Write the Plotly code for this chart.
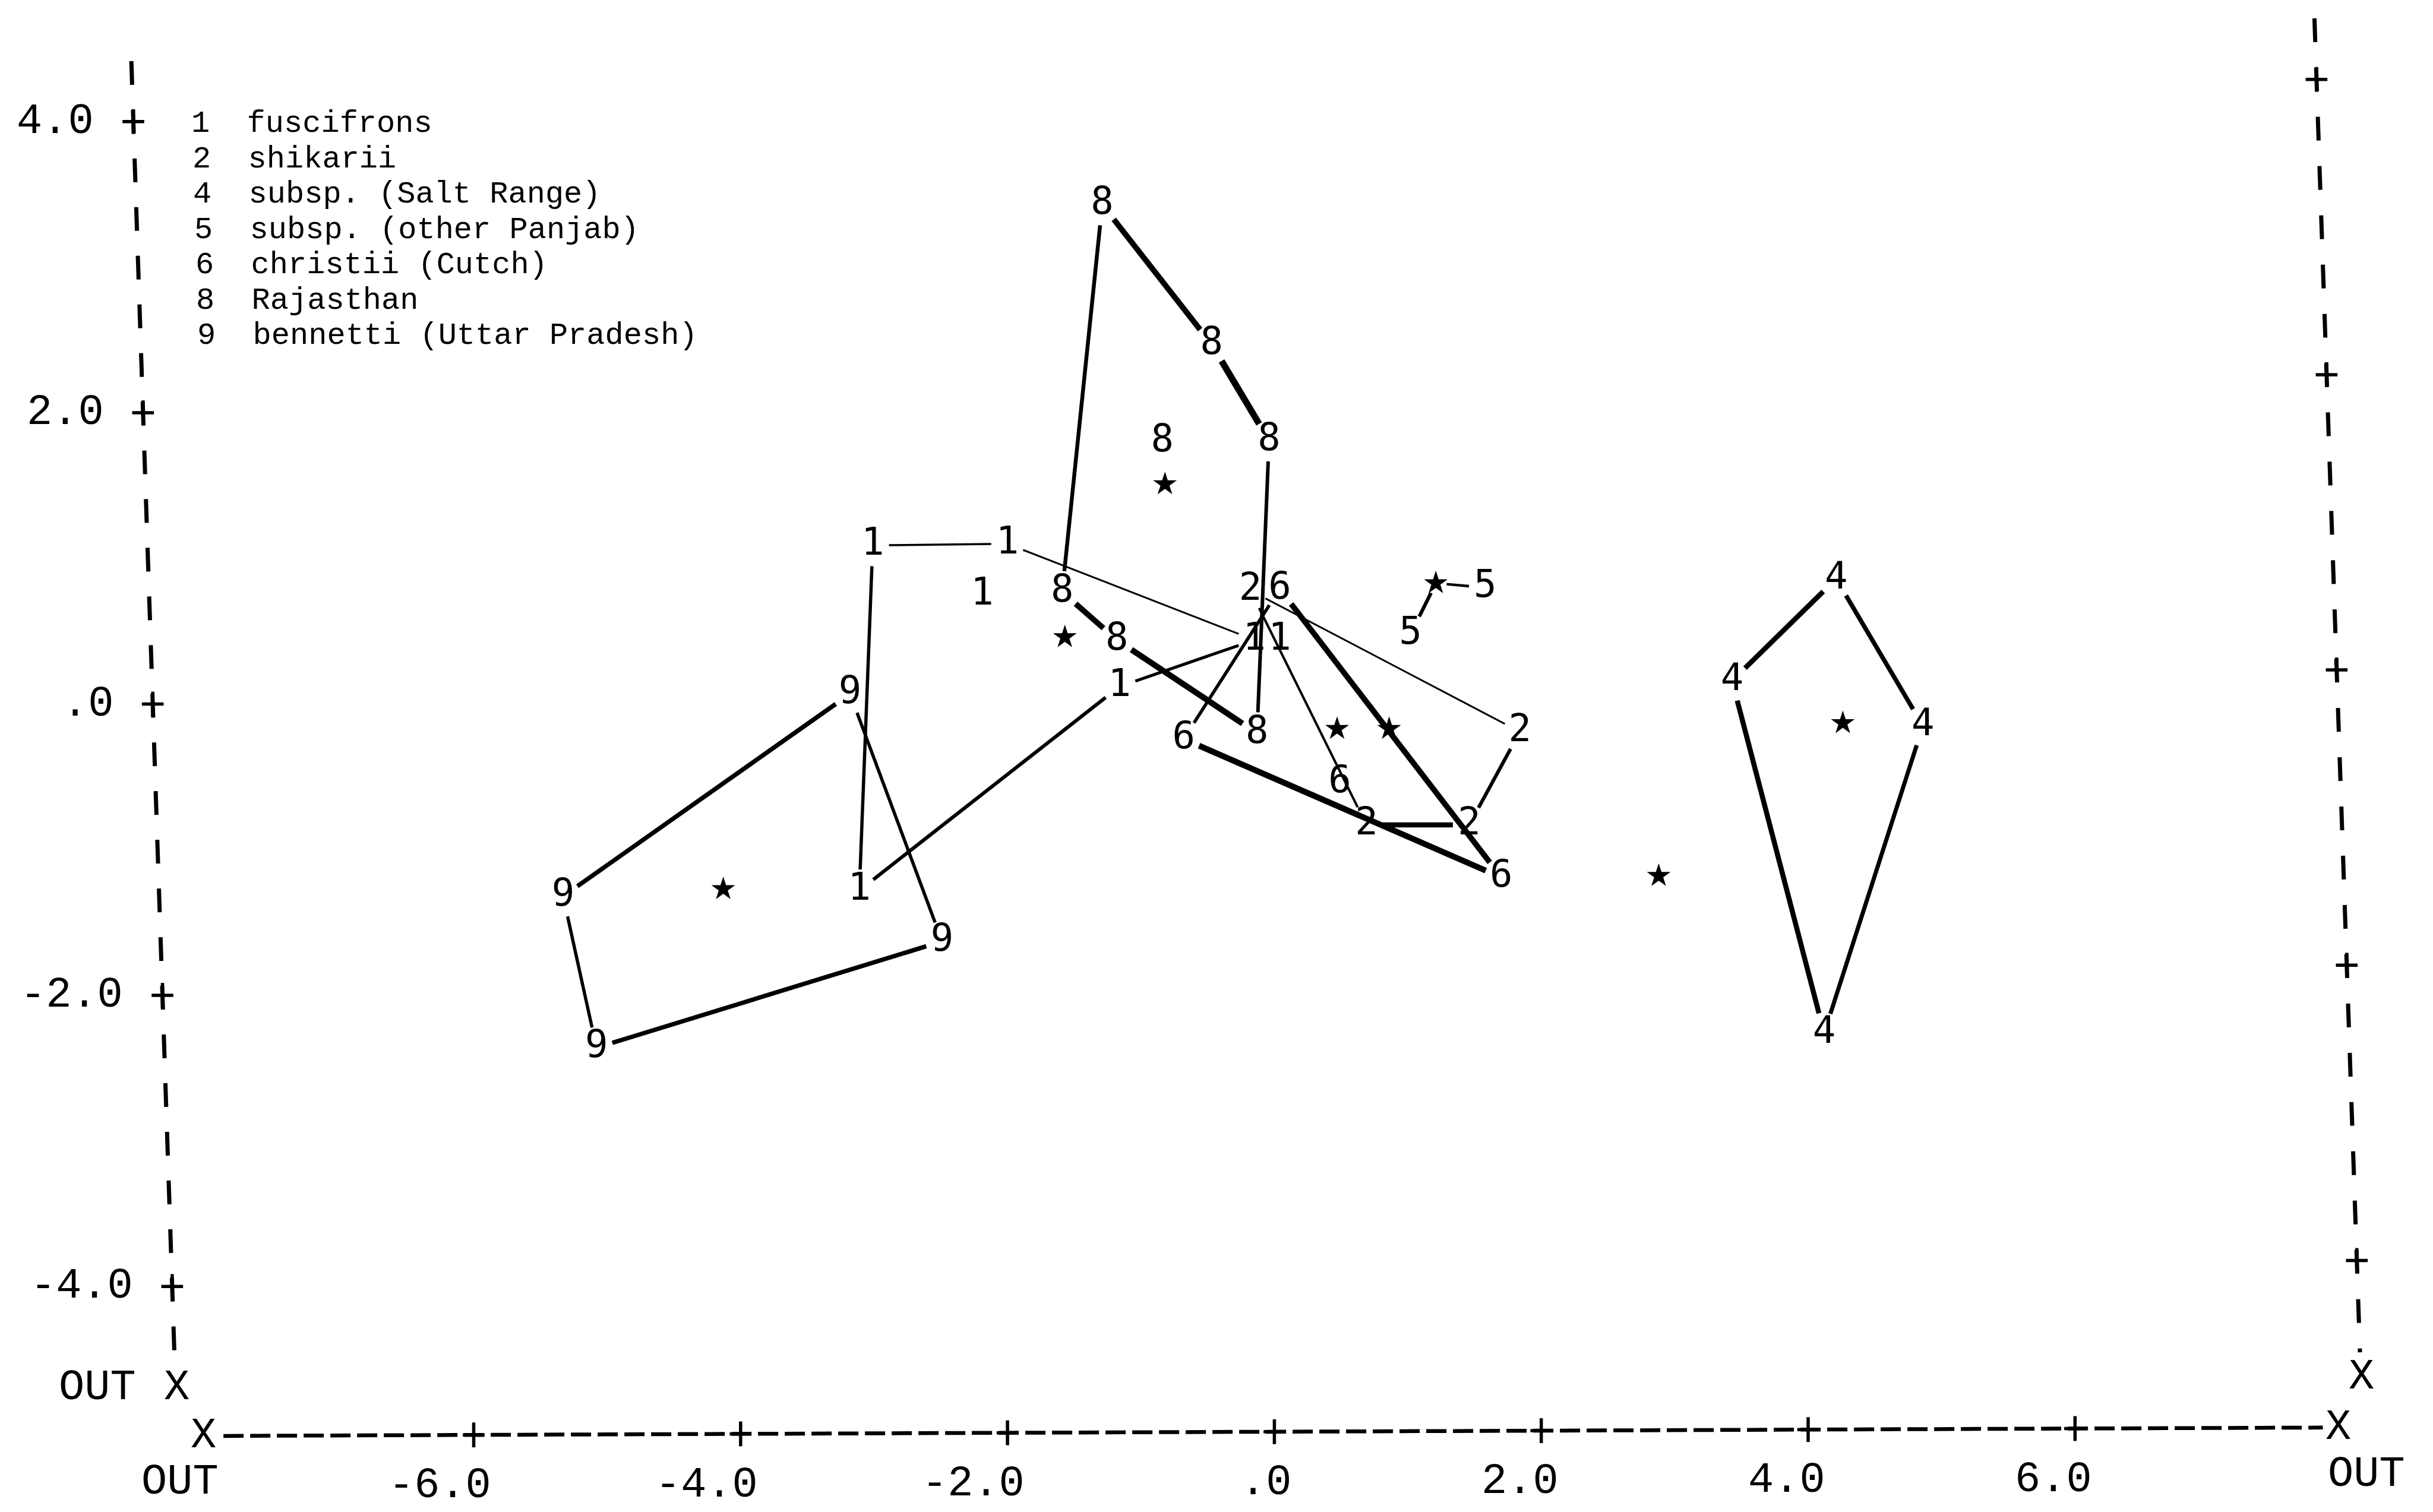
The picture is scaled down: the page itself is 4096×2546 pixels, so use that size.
import math
import plotly.graph_objects as go

# ---------------- data (discriminant function scores) ----------------
group_codes = ["1", "2", "4", "5", "6", "8", "9"]
group_names = ["fuscifrons", "shikarii", "subsp. (Salt Range)", "subsp. (other Panjab)",
               "christii (Cutch)", "Rajasthan", "bennetti (Uttar Pradesh)"]

# hull vertices (in drawing order) and interior cases of each group
g1_hull_x = [-3.01, -2.00, -0.15, -1.16, -3.11]
g1_hull_y = [1.09, 1.10, 0.44, 0.12, -1.28]
g1_in_x = [-2.19, 0.04]
g1_in_y = [0.75, 0.44]

g2_hull_x = [-0.18, 1.84, 1.46, 0.69]
g2_hull_y = [0.78, -0.19, -0.83, -0.83]

g4_hull_x = [4.21, 3.43, 4.12, 4.86]
g4_hull_y = [0.86, 0.16, -2.26, -0.15]

g5_x = [1.02, 1.58]
g5_y = [0.48, 0.80]

g6_hull_x = [0.04, 1.70, -0.68]
g6_hull_y = [0.79, -1.19, -0.24]
g6_in_x = [0.49]
g6_in_y = [-0.54]

g8_hull_x = [-1.29, -0.47, -0.04, -0.13, -1.18, -1.59]
g8_hull_y = [3.43, 2.47, 1.81, -0.20, 0.44, 0.77]
g8_in_x = [-0.84]
g8_in_y = [1.80]

g9_hull_x = [-3.18, -5.33, -5.08, -2.49]
g9_hull_y = [0.07, -1.32, -2.36, -1.63]

# group centroids (*)
centroid_x = [-0.82, -1.57, 0.47, 0.86, 1.21, 2.88, 4.26, -4.13]
centroid_y = [1.51, 0.46, -0.17, -0.17, 0.83, -1.18, -0.13, -1.27]

x_tick_vals = [-6, -4, -2, 0, 2, 4, 6]
x_tick_text = ["-6.0", "-4.0", "-2.0", ".0", "2.0", "4.0", "6.0"]
y_tick_vals = [4, 2, 0, -2, -4]
y_tick_text = ["4.0", "2.0", ".0", "-2.0", "-4.0"]

# ---------------- styles ----------------
W, H = 4096, 2546
K = W / 1568.0            # reference-view px -> output px
SX, SY = 86.0, 93.9       # reference-view px per unit
X0, Y0 = 821.3, 454.0     # reference-view px of the origin

edge_widths = {
    "1": [3.5, 3.0, 5.0, 6.0, 5.5],
    "2": [3.0, 6.0, 8.5, 4.0],
    "4": [8.5, 8.5, 7.0, 7.5],
    "5": [6.0, 4.5],
    "6": [9.5, 10.0, 5.5],
    "8": [9.5, 11.0, 6.0, 10.0, 9.5, 6.5],
    "9": [7.5, 5.5, 7.5, 5.5],
}
DIGIT_FONT = dict(family="DejaVu Sans Mono", size=64, color="black")
AXIS_FONT = dict(family="Liberation Mono", size=72, color="black")
LEGEND_FONT = dict(family="Liberation Mono", size=52, color="black")
LABEL_RX, LABEL_RY, STAR_R = 10.5, 13.5, 7.0


def dx(px):
    return (px - X0) / SX


def dy(py):
    return (Y0 - py) / SY


def px_of(x):
    return X0 + SX * x


def py_of(y):
    return Y0 - SY * y


fig = go.Figure()


def gap(ux, uy, kind):
    if kind == "star":
        return STAR_R
    return 1.0 / math.sqrt((ux / LABEL_RX) ** 2 + (uy / LABEL_RY) ** 2)


def add_edge(xa, ya, xb, yb, width, ka="label", kb="label"):
    ddx = (xb - xa) * SX
    ddy = (yb - ya) * SY
    L = math.hypot(ddx, ddy)
    ux, uy = ddx / L, ddy / L
    ga, gb = gap(ux, uy, ka), gap(ux, uy, kb)
    fig.add_trace(go.Scatter(
        x=[xa + ux * ga / SX, xb - ux * gb / SX],
        y=[ya + uy * ga / SY, yb - uy * gb / SY],
        mode="lines", line=dict(color="black", width=width),
        hoverinfo="skip", showlegend=False))


def add_polygon(xs, ys, widths):
    n = len(xs)
    for i in range(n):
        j = (i + 1) % n
        add_edge(xs[i], ys[i], xs[j], ys[j], widths[i])


def add_labels(xs, ys, code):
    fig.add_trace(go.Scatter(
        x=xs, y=ys, mode="text", text=[code] * len(xs),
        textposition="middle center", textfont=DIGIT_FONT,
        hoverinfo="skip", showlegend=False))


# hulls
add_polygon(g1_hull_x, g1_hull_y, edge_widths["1"])
add_polygon(g2_hull_x, g2_hull_y, edge_widths["2"])
add_polygon(g4_hull_x, g4_hull_y, edge_widths["4"])
add_polygon(g6_hull_x, g6_hull_y, edge_widths["6"])
add_polygon(g8_hull_x, g8_hull_y, edge_widths["8"])
add_polygon(g9_hull_x, g9_hull_y, edge_widths["9"])
# group 5: two cases joined through their centroid
add_edge(g5_x[0], g5_y[0], centroid_x[4], centroid_y[4], edge_widths["5"][0], "label", "star")
add_edge(centroid_x[4], centroid_y[4], g5_x[1], g5_y[1], edge_widths["5"][1], "star", "label")

# case labels
add_labels(g1_hull_x + g1_in_x, g1_hull_y + g1_in_y, "1")
add_labels(g2_hull_x, g2_hull_y, "2")
add_labels(g4_hull_x, g4_hull_y, "4")
add_labels(g5_x, g5_y, "5")
add_labels(g6_hull_x + g6_in_x, g6_hull_y + g6_in_y, "6")
add_labels(g8_hull_x + g8_in_x, g8_hull_y + g8_in_y, "8")
add_labels(g9_hull_x, g9_hull_y, "9")

# centroids
fig.add_trace(go.Scatter(
    x=centroid_x, y=centroid_y, mode="markers",
    marker=dict(symbol="star", size=30, color="black", line=dict(width=0)),
    hoverinfo="skip", showlegend=False))

# ---------------- frame (printer-plot style, slightly skewed as in the scan) ----------------
shapes = []
annotations = []


def left_axis_px(py):
    return 86 + (py - 80) * 0.0333


def right_axis_px(py):
    return 1493 + (py - 53) * 0.0341


def right_tick_py(y):
    return py_of(y) - (22 + 1.3 * y)


def bottom_axis_py(px):
    return 926 - (px - 131) * 0.004


def line(pxa, pya, pxb, pyb, width, dash="solid"):
    shapes.append(dict(type="line", xref="x", yref="y",
                       x0=dx(pxa), y0=dy(pya), x1=dx(pxb), y1=dy(pyb),
                       line=dict(color="black", width=width, dash=dash)))


def text(px, py, s, xanchor="center", font=AXIS_FONT):
    annotations.append(dict(x=dx(px), y=dy(py), xref="x", yref="y", text=s,
                            showarrow=False, xanchor=xanchor, yanchor="middle",
                            font=font, borderpad=0))


TW = 7.0   # half-width of '+' bars (ref px)
# left axis
top, bot = 39.4, 878
line(left_axis_px(top), top, left_axis_px(bot), bot, 7, "40px,42px")
for v, s in zip(y_tick_vals, y_tick_text):
    py = py_of(v)
    px = left_axis_px(py)
    line(px - TW, py, px + TW, py, 5.5)
    line(px, py - 8, px, py + 8, 5.5)
    text(px - 25, py, s, "right")
text(85 + 3, 895, "OUT", "right")
text(114, 895, "X")

# right axis
top, bot = 11.8, 872
line(right_axis_px(top), top, right_axis_px(bot), bot, 7, "40px,43px")
for v in y_tick_vals:
    py = right_tick_py(v)
    px = right_axis_px(py)
    line(px - TW, py, px + TW, py, 5.5)
    line(px, py - 8, px, py + 8, 5.5)
text(1522, 888, "X")

# bottom axis
line(144, bottom_axis_py(144), 1497, bottom_axis_py(1497), 6.5, "34px,11px")
for v, s in zip(x_tick_vals, x_tick_text):
    px = px_of(v)
    py = bottom_axis_py(px)
    line(px, py - 8, px, py + 8, 5.5)
    line(px - TW, py, px + TW, py, 5.5)
    text(px + 11.5, py + 33, s, "right")
text(131, bottom_axis_py(131), "X")
text(1507, bottom_axis_py(1507), "X")
text(116, 956, "OUT")
text(1525, 951, "OUT")

# legend (typed key)
for i, (c, n) in enumerate(zip(group_codes, group_names)):
    text(123 + 0.6 * i, 79.9 + 22.8 * i, c + "\u00a0\u00a0" + n, "left", LEGEND_FONT)

fig.update_layout(
    width=W, height=H,
    margin=dict(l=0, r=0, t=0, b=0, pad=0),
    paper_bgcolor="white", plot_bgcolor="white",
    xaxis=dict(range=[dx(0), dx(1568)], visible=False, showgrid=False, zeroline=False),
    yaxis=dict(range=[dy(975), dy(0)], visible=False, showgrid=False, zeroline=False),
    shapes=shapes, annotations=annotations, showlegend=False,
)

fig.write_html("out.html", config={"displayModeBar": False},
               post_script="document.body.style.margin='0';")
